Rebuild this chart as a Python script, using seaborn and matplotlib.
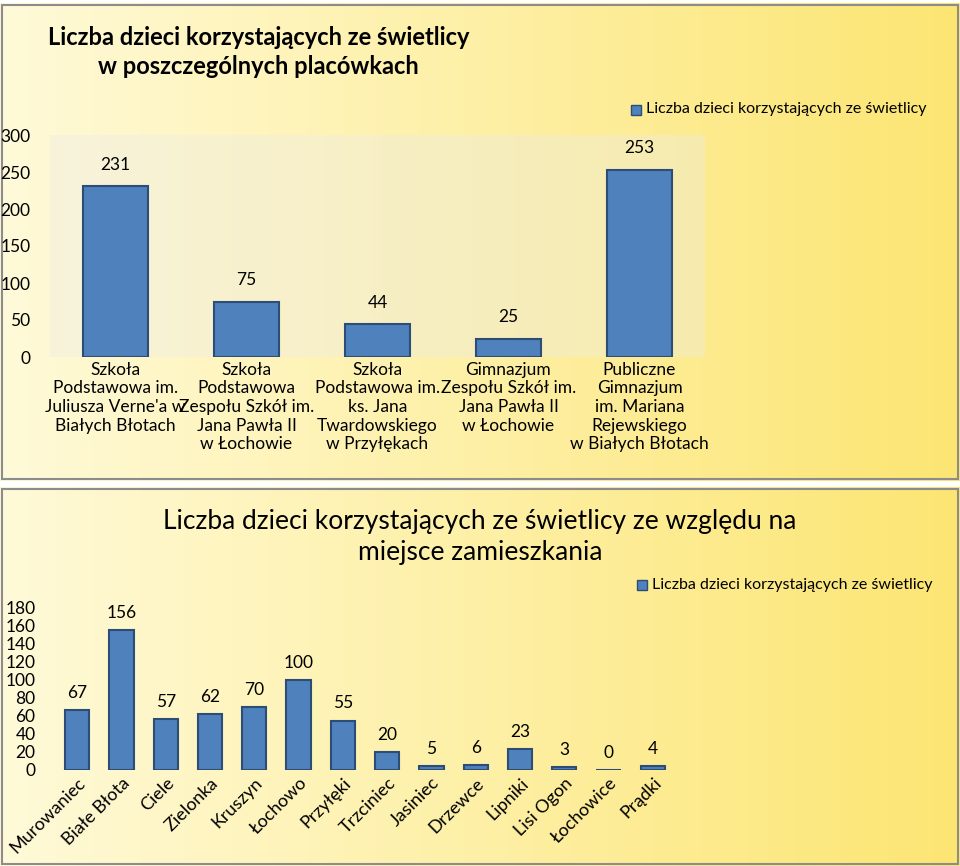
import numpy as np
import pandas as pd
import matplotlib
matplotlib.use("Agg")
import matplotlib.pyplot as plt
import seaborn as sns
from matplotlib.patches import Rectangle

top_cats = ["Szkoła\nPodstawowa im.\nJuliusza Verne'a w\nBiałych Błotach",
            "Szkoła\nPodstawowa\nZespołu Szkół im.\nJana Pawła II\nw Łochowie",
            "Szkoła\nPodstawowa im.\nks. Jana\nTwardowskiego\nw Przyłękach",
            "Gimnazjum\nZespołu Szkół im.\nJana Pawła II\nw Łochowie",
            "Publiczne\nGimnazjum\nim. Mariana\nRejewskiego\nw Białych Błotach"]
top_vals = [231, 75, 44, 25, 253]
bot_cats = ["Murowaniec", "Białe Błota", "Ciele", "Zielonka", "Kruszyn", "Łochowo",
            "Przyłęki", "Trzciniec", "Jasiniec", "Drzewce", "Lipniki", "Lisi Ogon",
            "Łochowice", "Prądki"]
bot_vals = [67, 156, 57, 62, 70, 100, 55, 20, 5, 6, 23, 3, 0, 4]
series = "Liczba dzieci korzystających ze świetlicy"

plt.rcParams["font.family"] = "Lato"
fig = plt.figure(figsize=(9.6, 8.66), dpi=100)
W, H = 960, 866

def panel(y0, y1):
    ax = fig.add_axes([0, 1 - y1 / H, 1, (y1 - y0) / H], zorder=-5)
    g = np.linspace(0, 1, 256)
    img = np.zeros((2, 256, 3))
    c0 = np.array([1.0, 0.98, 0.85]); c1 = np.array([0.99, 0.90, 0.45])
    for i, t in enumerate(g):
        img[:, i] = c0 * (1 - t) + c1 * t
    ax.imshow(img, aspect="auto", extent=[0, 1, 0, 1])
    ax.add_patch(Rectangle((0.002, 0.004), 0.996, 0.992, fill=False, ec="#8c8c8c", lw=1.5,
                           transform=ax.transAxes))
    ax.set_axis_off()

panel(3, 481)
panel(487, 866)

blue = "#4F81BD"
edge = "#2c4d75"

# top chart
ax1 = fig.add_axes([50 / W, 1 - 357 / H, 655 / W, 222 / H])
df1 = pd.DataFrame({"cat": top_cats, "val": top_vals})
sns.barplot(data=df1, x="cat", y="val", ax=ax1, color=blue, edgecolor=edge, linewidth=1.5,
            width=0.5, saturation=1)
ax1.set_ylim(0, 300)
ax1.set_yticks(range(0, 301, 50))
ax1.set_facecolor((0.92, 0.92, 0.92, 0.35))
for s in ax1.spines.values():
    s.set_visible(False)
ax1.tick_params(length=0, labelsize=12.5)
ax1.tick_params(axis="y", pad=14)
ax1.set_xlabel(""); ax1.set_ylabel("")
for i, v in enumerate(top_vals):
    ax1.text(i, v + 18, str(v), ha="center", va="bottom", fontsize=12.5)
fig.text(48 / W, 1 - 52 / H, "Liczba dzieci korzystających ze świetlicy\nw poszczególnych placówkach",
         fontsize=17, fontweight="bold", ha="left", va="center", linespacing=1.3,
         multialignment="center")
fig.patches.append(Rectangle((631 / W, 1 - 115 / H), 10 / W, 10 / H, transform=fig.transFigure,
                             fc=blue, ec=edge))
fig.text(646 / W, 1 - 109 / H, series, fontsize=11.5, va="center")

# bottom chart
ax2 = fig.add_axes([55 / W, 1 - 770 / H, 620 / W, 162 / H])
df2 = pd.DataFrame({"cat": bot_cats, "val": bot_vals})
sns.barplot(data=df2, x="cat", y="val", ax=ax2, color=blue, edgecolor=edge, linewidth=1.5,
            width=0.55, saturation=1)
ax2.set_ylim(0, 180)
ax2.set_yticks(range(0, 181, 20))
ax2.set_facecolor("none")
for s in ax2.spines.values():
    s.set_visible(False)
ax2.tick_params(length=0, labelsize=12.5)
ax2.tick_params(axis="y", pad=14)
ax2.set_xticks(range(len(bot_cats)))
ax2.set_xticklabels(bot_cats, rotation=45, ha="right", rotation_mode="anchor", fontsize=13)
ax2.set_xlabel(""); ax2.set_ylabel("")
for i, v in enumerate(bot_vals):
    ax2.text(i, v + 10, str(v), ha="center", va="bottom", fontsize=12.5)
fig.text(480 / W, 1 - 537 / H, "Liczba dzieci korzystających ze świetlicy ze względu na\nmiejsce zamieszkania",
         fontsize=19, ha="center", va="center", linespacing=1.3)
fig.patches.append(Rectangle((637 / W, 1 - 590 / H), 10 / W, 10 / H, transform=fig.transFigure,
                             fc=blue, ec=edge))
fig.text(652 / W, 1 - 585 / H, series, fontsize=11.5, va="center")

fig.savefig("out.png", dpi=100)
